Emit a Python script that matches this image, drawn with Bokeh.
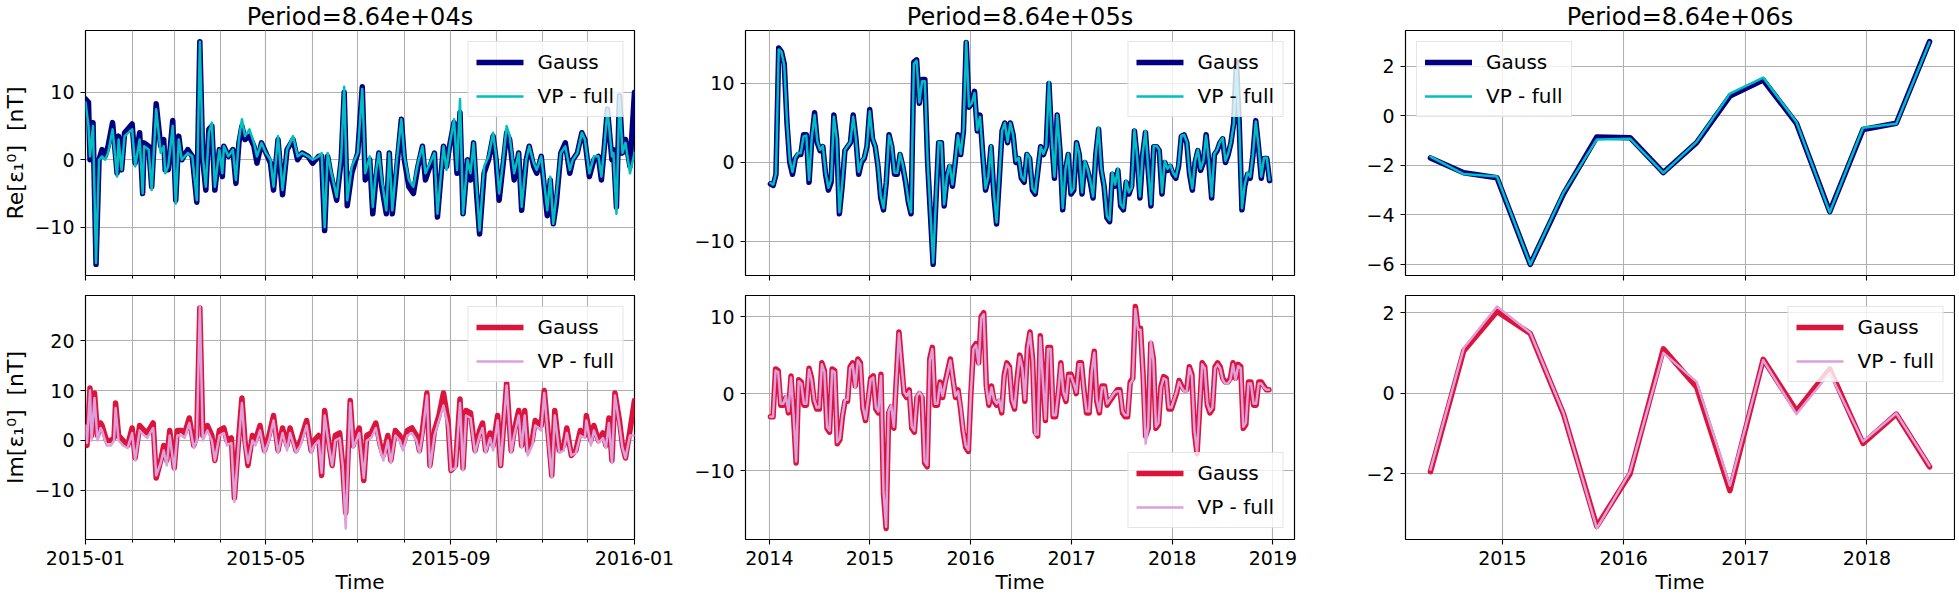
import numpy as np
import pandas as pd
from bokeh.plotting import figure
from bokeh.layouts import gridplot
from bokeh.models import (Range1d, FixedTicker, SingleIntervalTicker, DatetimeTickFormatter,
                          CustomJSTickFormatter, CustomLabelingPolicy, Legend, LegendItem)
from bokeh.embed import file_html
from bokeh.resources import INLINE

# ---------------- data ----------------
titles = ["Period=8.64e+04s", "Period=8.64e+05s", "Period=8.64e+06s"]
ylabels = ["Re[ε₁⁰]\u00a0\u00a0[nT]", "Im[ε₁⁰]\u00a0\u00a0[nT]"]
names = ["Gauss", "VP - full"]
xlabel = "Time"

# Period 8.64e4 s (daily), days since 2015-01-01
re1_day = [0, 2, 3, 5, 7, 9, 11, 13, 15, 18,
           21, 22, 24, 26, 31, 33, 36, 38, 39, 42,
           44, 47, 50, 52, 53, 55, 58, 60, 62, 64,
           68, 71, 74, 76, 78, 80, 82, 84, 86, 89,
           91, 92, 95, 98, 100, 102, 104, 106, 109, 112,
           114, 117, 120, 123, 125, 128, 131, 134, 138, 141,
           144, 148, 151, 155, 157, 159, 161, 163, 167, 170,
           172, 174, 177, 179, 181, 184, 186, 189, 191, 193,
           195, 197, 200, 202, 204, 207, 210, 212, 215, 218,
           221, 224, 226, 229, 232, 234, 238, 240, 242, 245,
           247, 249, 251, 254, 256, 258, 260, 262, 265, 268,
           271, 273, 275, 277, 280, 282, 285, 288, 290, 293,
           295, 298, 300, 303, 305, 307, 309, 311, 313, 316,
           319, 322, 324, 327, 330, 332, 335, 338, 341, 343,
           345, 347, 350, 351, 353, 355, 357, 359, 362, 365]
re1_gauss = [9, 8.5, 0, 5.5, -15.5, 0, 1.5, 0.5, 2, 5.5,
             -2, 3.5, -1.5, 4, 5.3, -0.5, 4, -5, 2.5, 2,
             -4, 8.3, 2, 3, -1.5, -1.5, 5.8, -6, 3.5, 0,
             1.5, 0.5, -6.3, 17.5, 0, -4.5, 4.5, 5, -4.5, 1.5,
             -2.5, 2, 0.5, 1.5, -3.5, 2.5, 5, 3, 3.5, 2,
             -0.5, 2.5, 1, -0.5, -4.5, 3, -5.2, 1.5, 3, 0,
             1, 0.5, -0.5, 0.5, 0.5, -10.5, 0.5, -2, -6, 0,
             10, -6.8, -2, -0.5, 1, 10.8, -3, 0, -8, -3,
             1, -4, -8, 1, -8, -1, 6, 0, -4, -5,
             -1, 2, -3, -1, 1, -8.5, 2, -1, 2, 5.5,
             -2, 7, -8, 0, -3, 2.5, -5, -11, -2, 0,
             3.5, 0, -6, -2, 4, 3, -3, 1, -7.5, 0,
             2, -1, -2, 0.5, -4, -8.3, -3, -9.5, -6.5, 1,
             2.5, -2, 0, 1, 4, 3, -2.5, 0, 0.5, -3,
             2, 7.5, 0, 1.5, -7, 9.5, 1, 3, -1, 10]
re1_vp = [8.5, 5, 0.5, 5, -15.3, 0, 0.5, 0, 1, 4.5,
          -2.5, 3, -1.5, 3.5, 4.5, -1, 3, -5, 2, 1.5,
          -4.5, 7.5, 1, 2, -2, -1, 5, -6.5, 3, 0,
          1, 0.5, -6, 17.5, 0.5, -4, 4, 5.5, -4, 1.5,
          -2, 2, 0.5, 1.5, -3, 3, 6, 3.5, 4.5, 2.5,
          0.5, 2.5, 1, 0, -4, 3.5, -4.5, 1.5, 3.5, 0.5,
          1, 0.5, 0, 0.5, 1, -10, 1, -1.5, -5.5, 0.5,
          10.8, -6, -1, 0, 1, 10.5, -2, 0.5, -7, -2,
          1, -3, -7.5, 1, -7.5, 0, 6, 0.5, -3, -4,
          -0.5, 2, -2, -0.5, 1, -8, 2, -1.5, 2, 6,
          -1.5, 9, -8, 0, -2, 2.5, -4, -10.5, -1, 0.5,
          4, 0.5, -5, -1.5, 5, 3.5, -2, 1, -7, 0,
          2, -0.5, -1.5, 0.5, -3.5, -7.5, -2.5, -9.5, -5.5, 1,
          2, -1.5, 0, 1, 4, 3, -2, 0.5, 0.5, -2.5,
          2, 7.5, 0.5, 1, -8, 9.5, 1, 2.5, -2, 1]

im1_day = [0, 1, 3, 4, 6, 8, 10, 11, 14, 17,
           19, 20, 22, 25, 28, 31, 33, 36, 39, 41,
           43, 45, 47, 50, 52, 54, 56, 59, 61, 64,
           66, 69, 72, 74, 76, 78, 81, 84, 86, 89,
           92, 94, 97, 99, 102, 104, 106, 108, 111, 113,
           116, 119, 122, 125, 128, 131, 134, 136, 140, 143,
           147, 150, 152, 155, 157, 159, 162, 164, 166, 169,
           171, 173, 176, 178, 180, 182, 185, 187, 190, 193,
           196, 198, 201, 203, 206, 209, 211, 214, 217, 220,
           222, 224, 227, 229, 232, 235, 238, 241, 243, 246,
           249, 251, 253, 256, 259, 262, 264, 266, 269, 271,
           274, 276, 280, 283, 285, 288, 290, 292, 294, 297,
           299, 303, 305, 308, 310, 312, 315, 318, 320, 323,
           326, 329, 332, 333, 336, 338, 341, 344, 346, 348,
           350, 352, 355, 357, 359, 362, 365]
im1_gauss = [0, -1, 10.5, 1, 9.5, 1, 3.5, 3, 0, 0,
             0.5, 7.5, 1, 0, -1, 2.5, -3.5, 3, 2, 1.5,
             2.5, 3.5, -7.5, -4, -1, -4, 2, -5.5, 2, 2,
             1.5, 4.5, -1, 1, 26.5, 1, 3, 1, -4, 2,
             2.5, 0, 0.5, -11.5, 1, 8.5, 0, -5, 1, 0,
             3, -2, 1, 5, -2, 2.5, -1, 2.5, -2, 0,
             4, -2, 0, 1, -7, 6, -1, -5, 1, 1.5,
             -5, -14.5, 8, -1, 1, 2.5, -8, 1, 1.5, 3.5,
             -1, -3, 1, -4, 2, 1, -1, 2, 2.5, 1,
             -2, 2, 9.5, -5, 2, 5, 9.5, 4, -6, -5,
             8.3, -5.5, 6, 5.5, -2, 2, 3.5, -2, 1.5, -1,
             5, -5, 11.5, -2, 2, 6, -1, 6, -2, 0,
             4, 3, 10, 0, -7, 6, -2, -1, 2.5, -3,
             -2, 2, 1, 5, 0, 3, 0, 1.5, -1, 4.5,
             -4, 9.5, 4, -1, -3.5, 2, 8]
im1_vp = [3, -0.5, 10, 0, 8.5, 0, 2.5, 2, -1, -1,
          0, 6.5, 0, -1, -1.5, 1.5, -4, 2, 1, 0.5,
          1.5, 2.5, -7, -4.5, -2, -5, 1, -6, 1, 1,
          0.5, 3.5, -1.5, 0, 26.8, 0, 2, 0, -4, 1,
          1.5, -1, -0.5, -12.3, 0, 7.5, -1, -4.5, 0, -1,
          2, -2.5, 0, 4, -2.5, 1.5, -2, 1.5, -2.5, -1,
          3, -2.5, -1, 0, -6.5, 5, -1.5, -5, 0, 0.5,
          -5, -17.6, 7.5, -1.5, 0, 1.5, -7.5, 0, 0.5, 2.5,
          -2, -4, 0, -4.5, 1, 0, -2, 1, 1.5, 0,
          -2.5, 1, 9, -5.5, 1, 4, 7, 3, -6, -5.5,
          7.5, -6, 5, 4.5, -2.5, 1, 2.5, -2.5, 0.5, -2,
          4, -5, 11, -2.5, 1, 5, -1.5, 5, -3, -1,
          3, 2, 9.5, -1, -7.5, 5, -2.5, -2, 1.5, -3,
          -2.5, 1, 0.5, 4, -1, 2, -0.5, 0.5, -1.5, 3.5,
          -4.5, 9, 3, -1.5, -3.5, 1, 1]

# Period 8.64e5 s (10-day steps)
re2_start, re2_step = "2014-01-05", "10D"
re2_gauss = [-2.7, -2.9, -1.5, 14.5, 14, 12.5, 5, 0, -1.5, 0.5,
             1, 1, 3.5, 3.5, -2.5, 3, 6.3, 2.5, 1.5, 2,
             -1.5, -3.5, -2.5, 6, 3, -6.5, -3, 1.5, 2, 2.5,
             6, 3, -1.5, 0, 0.5, 2, 6.7, 3, 2, -0.5,
             -4.5, -6, -2.5, 3.5, 2, -1.5, -1.5, 1, -0.5, -2.5,
             -5, -6.5, 12.7, 13, 7.5, 10.5, 10.5, 0, -6.5, -12.9,
             -5, 2.5, 2.5, -5.5, -2, -0.5, -3, 0, 3.5, 1,
             4, 15.2, 7, 7.5, 9, 4, 6, 1, -3.5, -2,
             2, -4, -7.8, -2, 4, 5, 2.5, 5, 3.5, 0,
             0.5, -2, -2.5, 1, 0.5, -3.5, -4, -1, 2, 1,
             2, 10, 3, -2, 6, 1.5, -6, -1, 1, -4,
             -3.5, 2.5, 1, -4, 0, -1, -2.5, -4.5, 1, 4.2,
             -1, -3, -7, -7.5, -1.5, -3, -1, -5.5, -6, -2.5,
             -4, -3, 4, 0.5, -4.5, 1, 3.8, -1, -5.5, 2,
             2, 1.5, -4, 0, -1, -0.5, -1.5, -2, -0.5, 3.3,
             3.5, 2.5, -1.5, -3.5, 0, 1.5, -1, 0, 3.5, 0,
             -4.5, 1, 1.5, 2.5, 3, 0, 1, 2.5, 5, 12.8,
             5, -6, -3, -1.5, -2, 1, 5.3, 2, -2, 0.5,
             0.5, -2.3]
re2_vp = [-2.6, -2.8, -1.4, 14.3, 14, 12.3, 5.2, 0.3, -1.2, 0.6,
          1.2, 1.2, 3.3, 3.4, -2.2, 3.2, 6, 2.7, 1.6, 2.1,
          -1.3, -3.2, -2.2, 5.8, 3.1, -6.3, -2.8, 1.6, 2.1, 2.6,
          5.8, 3, -1.2, 0.2, 0.6, 2.1, 6.5, 3.1, 2.1, -0.3,
          -4.2, -5.8, -2.3, 3.4, 2.1, -1.3, -1.3, 1.1, -0.3, -2.3,
          -4.8, -6.3, 12.5, 12.9, 7.6, 10.3, 10.3, 0.2, -6.2, -12.7,
          -4.8, 2.6, 2.5, -5.3, -1.8, -0.3, -2.8, 0.2, 3.4, 1.1,
          4.1, 15.3, 7.1, 7.5, 8.8, 4.1, 5.8, 1.1, -3.3, -1.8,
          2.1, -3.8, -7.6, -1.8, 4, 5, 2.6, 5, 3.5, 0.2,
          0.6, -1.8, -2.3, 1.1, 0.6, -3.3, -3.8, -0.8, 2, 1.1,
          2, 10.2, 3, -1.8, 6, 1.6, -5.8, -0.8, 1.1, -3.8,
          -3.3, 2.5, 1.1, -3.8, 0.2, -0.8, -2.3, -4.3, 1.1, 4.4,
          -0.8, -2.8, -6.8, -7.3, -1.3, -2.8, -0.8, -5.3, -5.8, -2.3,
          -3.8, -3.2, 4.1, 0.6, -4.3, 1.1, 4, -0.8, -5.3, 2.1,
          2.1, 1.6, -3.8, 0.2, -0.8, -0.3, -1.3, -1.8, -0.3, 3.4,
          3.5, 2.6, -1.3, -3.3, 0.2, 1.6, -0.8, 0.2, 3.4, 0.2,
          -4.3, 1.1, 1.6, 2.6, 3.1, 0.2, 1.1, 2.6, 4.8, 12.2,
          4.8, -5.8, -2.8, -1.3, -1.8, 1.1, 5.2, 2.1, -1.8, 0.6,
          0.6, -2.2]

im2_start, im2_end = "2014-01-05", "2018-12-18"
im2_gauss = [-3, -3, 3.2, 3, -1.5, -1.5, -0.5, -2.5, 2.3, -3,
             -9, 1.8, 1.5, -1.5, -1.5, 3.3, 2, -1, -2, -2,
             4, 3, -4.5, -5, 3.2, 3, -6.5, -6, -3, -1,
             -1, 3.5, 4, 1, 4.5, 4, -2, -3.5, -1, 2,
             2.3, -2, -2.5, 2.5, -13, -17.5, -2.5, -1.7, -4.5, 2,
             8, 4, 0, -0.5, 0.5, -4.5, -5, -0.5, 0, -0.5,
             -9, -9.5, 4.5, 6, -1.5, -1.5, 1.5, -0.5, 1.5, 3,
             4.5, 2, -0.5, 0.5, -2, -5, -7, -7.5, 0, 6,
             6.5, 4, 10, 10.5, 1, -1.5, 1, -1, -1.5, -1,
             -2.5, 2.5, 4, 3.5, -1, -2, 2, 5, 3.5, -1,
             6, 8, 4.5, -5, -5.5, 7.5, 2, -3.5, 6, 6,
             -3, -3, 0, 4, 0, -1, 2.5, 2.5, 1.5, 0,
             4, 4, 0.5, -2.5, -2.5, 3, 5.5, -1, -2.5, 1,
             1, -1.5, -1, -0.5, 0, 0.5, 0.5, -2.5, -3, -3,
             1.5, 2, 11.3, 8.5, 8.5, 2.5, -5.5, -4.5, 6.5, 4.5,
             -4.5, -4, 1, 2.2, 2, -2, -2, -1, 0, 1.7,
             1, 0.5, 0.5, 3.5, 2.5, -5, -7.8, -2, 4, 3.5,
             -1.5, -2.5, -2, 3.5, 4, 3.5, 2, 1.5, 1.5, 2,
             4, 2, 3.8, 3.5, -4.5, -4, 1.5, 1.5, -1.5, -1.5,
             1.5, 1.5, 1, 0.5, 0.5]
im2_vp = [-3, -3, 3, 2.8, -1.3, -1.3, -0.3, -2.3, 2.1, -2.8,
          -8.8, 1.6, 1.3, -1.3, -1.3, 3.1, 1.8, -0.8, -1.8, -1.8,
          3.8, 2.8, -4.3, -4.8, 3, 2.8, -6.3, -5.8, -2.8, -0.8,
          -0.8, 3.3, 3.8, 0.8, 4.3, 3.8, -1.8, -3.3, -0.8, 1.8,
          2.1, -1.8, -2.3, 2.3, -12.8, -17.3, -2.3, -1.5, -4.3, 1.8,
          7.8, 3.8, 0.2, -0.3, 0.3, -4.3, -4.8, -0.3, 0.2, -0.3,
          -8.8, -9.3, 4.3, 5.8, -1.3, -1.3, 1.3, -0.3, 1.3, 2.8,
          4.3, 1.8, -0.3, 0.3, -1.8, -4.8, -6.8, -7.3, 0.2, 5.8,
          6.3, 3.8, 9.8, 10.3, 0.8, -1.3, 0.8, -0.8, -1.3, -0.8,
          -2.3, 2.3, 3.8, 3.3, -0.8, -1.8, 1.8, 4.8, 3.3, -0.8,
          5.8, 7.8, 4.3, -5.3, -5.3, 7.3, 1.8, -3.3, 5.8, 5.8,
          -2.8, -2.8, 0.2, 3.8, 0.2, -0.8, 2.3, 2.3, 1.3, 0.2,
          3.8, 3.8, 0.3, -2.3, -2.3, 2.8, 5.3, -0.8, -2.3, 0.8,
          0.8, -1.3, -0.8, -0.3, 0.2, 0.3, 0.3, -2.3, -2.8, -2.8,
          1.3, 1.8, 11, 8.3, 8.3, 2.3, -6.5, -4.3, 6.8, 4.3,
          -4.3, -3.8, 0.8, 2, 1.8, -1.8, -1.8, -0.8, 0.2, 1.5,
          0.8, 0.3, 0.3, 3.3, 2.3, -4.8, -7.6, -1.8, 3.8, 3.3,
          -1.3, -2.3, -1.8, 3.3, 3.8, 3.3, 1.8, 1.3, 1.3, 1.8,
          3.8, 1.8, 3.6, 3.3, -4.3, -3.8, 1.3, 1.3, -1.3, -1.3,
          1.3, 1.3, 0.8, 0.5, 0.5]

# Period 8.64e6 s (100-day steps)
p3_start, p3_step = "2014-05-30", "100D"
re3_gauss = [-1.7, -2.3, -2.5, -6.0, -3.15, -0.85, -0.88, -2.29, -1.08, 0.8, 1.45, -0.3, -3.87, -0.55, -0.3, 3.0]
re3_vp = [-1.65, -2.35, -2.45, -6.0, -3.1, -0.95, -0.92, -2.3, -1.05, 0.9, 1.55, -0.25, -3.9, -0.48, -0.32, 2.98]
im3_gauss = [-1.95, 1.05, 2.03, 1.48, -0.52, -3.31, -2.0, 1.1, 0.15, -2.42, 0.84, -0.44, 0.6, -1.25, -0.52, -1.83]
im3_vp = [-1.9, 1.12, 2.15, 1.5, -0.5, -3.36, -1.95, 1.0, 0.28, -2.3, 0.82, -0.52, 0.5, -1.2, -0.5, -1.8]

# ---------------- time axes ----------------
t_re1 = pd.Timestamp("2015-01-01") + pd.to_timedelta(re1_day, unit="D")
t_im1 = pd.Timestamp("2015-01-01") + pd.to_timedelta(im1_day, unit="D")
t_re2 = pd.date_range(re2_start, periods=len(re2_gauss), freq=re2_step)
t_im2 = pd.date_range(im2_start, im2_end, periods=len(im2_gauss))
t_3 = pd.date_range(p3_start, periods=len(re3_gauss), freq=p3_step)


def ms(ts):
    return pd.Timestamp(ts).value / 1e6


def xrange_from(ts_list, frac):
    lo = min(ms(t.min()) for t in ts_list)
    hi = max(ms(t.max()) for t in ts_list)
    s = hi - lo
    return Range1d(start=lo - frac * s, end=hi + frac * s)


def yrange_from(*arrs):
    lo = min(min(a) for a in arrs)
    hi = max(max(a) for a in arrs)
    s = hi - lo
    return Range1d(start=lo - 0.05 * s, end=hi + 0.05 * s)


xr1 = xrange_from([t_re1, t_im1], 0.0)
xr2 = xrange_from([t_re2, t_im2], 0.05)
xr3 = xrange_from([t_3], 0.05)

months = pd.date_range("2015-01-01", "2016-01-01", freq="MS")
ticks1_major = [ms(m) for m in months if m.month in (1, 5, 9)]
ticks1_minor = [ms(m) for m in months]
ticks2 = [ms(pd.Timestamp(f"{y}-01-01")) for y in range(2014, 2020)]
ticks3 = [ms(pd.Timestamp(f"{y}-01-01")) for y in range(2015, 2019)]


def dt_fmt(f):
    return DatetimeTickFormatter(milliseconds=f, seconds=f, minsec=f, minutes=f, hourmin=f,
                                 hours=f, days=f, months=f, years=f)


minus_fmt = "return (tick < 0 ? '\\u2212' : '') + Math.abs(tick);"
hide_code = """
for (const i of Array.from(indices)) {
  if (typeof indices.unset === 'function') { indices.unset(i) } else { indices.set(i, false) }
}
return indices
"""

FONT = "DejaVu Sans"
GRID = "#b0b0b0"
C_RE = ("#000080", "#00bfbf")
C_IM = ("#dc143c", "#dda0dd")

border_left = [81, 71, 71]
border_right = [40, 40, 1]


def make_panel(row, col, xr, ticker, xfmt, yr, yint, ts, g, v, colors, legend_loc, minor_grid=False):
    fh = 245 if row == 0 else 244
    p = figure(x_axis_type="datetime", x_range=xr, y_range=yr,
               frame_width=549, frame_height=fh,
               output_backend="svg", toolbar_location=None,
               min_border_left=border_left[col], min_border_right=border_right[col],
               min_border_top=23 if row == 0 else 0,
               min_border_bottom=20 if row == 0 else 54,
               title=titles[col] if row == 0 else None)
    p.background_fill_color = "white"
    p.border_fill_color = "white"
    p.outline_line_color = "black"
    p.outline_line_width = 1.2
    p.outline_line_alpha = 1.0

    if row == 0:
        p.title.text_font = FONT
        p.title.text_font_size = "24px"
        p.title.text_font_style = "normal"
        p.title.text_color = "black"
        p.title.align = "center"
        p.title.standoff = 0
        p.title.offset = 0
        p.title.text_line_height = 0.8

    xa = p.xaxis[0]
    xa.ticker = ticker
    xa.formatter = xfmt
    ya = p.yaxis[0]
    ya.ticker = SingleIntervalTicker(interval=yint, num_minor_ticks=0)
    ya.formatter = CustomJSTickFormatter(code=minus_fmt)
    for ax in (xa, ya):
        ax.axis_line_color = None
        ax.major_tick_line_color = "black"
        ax.major_tick_line_width = 1.1
        ax.major_tick_out = 5
        ax.major_tick_in = 0
        ax.minor_tick_line_color = "black"
        ax.minor_tick_line_width = 1.0
        ax.minor_tick_out = 3
        ax.minor_tick_in = 0
        ax.major_label_text_font = FONT
        ax.major_label_text_font_size = "19px"
        ax.major_label_text_color = "black"
        ax.major_label_standoff = 6
        ax.axis_label_text_font = FONT
        ax.axis_label_text_font_size = "20px"
        ax.axis_label_text_font_style = "normal"
        ax.axis_label_text_color = "black"
    ya.minor_tick_out = 0

    if row == 0:
        xa.major_label_text_font_size = "1px"
        xa.major_label_standoff = 0
        xa.major_label_policy = CustomLabelingPolicy(code=hide_code)
    else:
        xa.axis_label = xlabel
        xa.axis_label_standoff = 2
    if col == 0:
        ya.axis_label = ylabels[row]
        ya.axis_label_text_font_size = "22px"
        ya.axis_label_standoff = 3

    p.xgrid.grid_line_color = GRID
    p.xgrid.grid_line_width = 1.1
    p.ygrid.grid_line_color = GRID
    p.ygrid.grid_line_width = 1.1
    if minor_grid:
        p.xgrid.minor_grid_line_color = GRID
        p.xgrid.minor_grid_line_width = 1.1

    rg = p.line(ts, g, line_color=colors[0], line_width=5.5, line_join="round", line_cap="round")
    rv = p.line(ts, v, line_color=colors[1], line_width=2.5, line_join="round", line_cap="round")

    leg = Legend(items=[LegendItem(label=names[0], renderers=[rg]),
                        LegendItem(label=names[1], renderers=[rv])],
                 location=legend_loc)
    leg.label_text_font = FONT
    leg.label_text_font_size = "20px"
    leg.label_text_color = "black"
    leg.glyph_width = 47
    leg.glyph_height = 20
    leg.label_height = 20
    leg.label_standoff = 14
    leg.spacing = 10
    leg.padding = 8
    leg.margin = 11
    leg.border_line_color = "#cccccc"
    leg.border_line_width = 1
    leg.background_fill_color = "white"
    leg.background_fill_alpha = 0.8
    p.add_layout(leg)
    return p


fmt1 = dt_fmt("%Y-%m")
fmtY = dt_fmt("%Y")

p00 = make_panel(0, 0, xr1, FixedTicker(ticks=ticks1_major, minor_ticks=ticks1_minor), fmt1,
                 yrange_from(re1_gauss, re1_vp), 10, t_re1, re1_gauss, re1_vp, C_RE, "top_right", True)
p10 = make_panel(1, 0, xr1, FixedTicker(ticks=ticks1_major, minor_ticks=ticks1_minor), fmt1,
                 yrange_from(im1_gauss, im1_vp), 10, t_im1, im1_gauss, im1_vp, C_IM, "top_right", True)
p01 = make_panel(0, 1, xr2, FixedTicker(ticks=ticks2), fmtY,
                 yrange_from(re2_gauss, re2_vp), 10, t_re2, re2_gauss, re2_vp, C_RE, "top_right")
p11 = make_panel(1, 1, xr2, FixedTicker(ticks=ticks2), fmtY,
                 yrange_from(im2_gauss, im2_vp), 10, t_im2, im2_gauss, im2_vp, C_IM, "bottom_right")
p02 = make_panel(0, 2, xr3, FixedTicker(ticks=ticks3), fmtY,
                 yrange_from(re3_gauss, re3_vp), 2, t_3, re3_gauss, re3_vp, C_RE, "top_left")
p12 = make_panel(1, 2, xr3, FixedTicker(ticks=ticks3), fmtY,
                 yrange_from(im3_gauss, im3_vp), 2, t_3, im3_gauss, im3_vp, C_IM, "top_right")

grid = gridplot([[p00, p01, p02], [p10, p11, p12]], toolbar_location=None)

with open("out.html", "w") as f:
    f.write(file_html(grid, INLINE))
